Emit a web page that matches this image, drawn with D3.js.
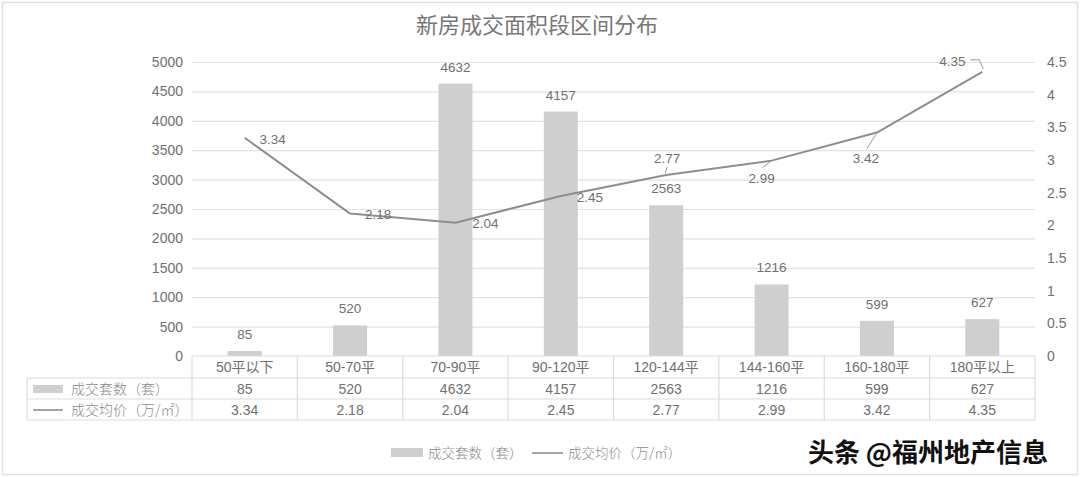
<!DOCTYPE html>
<html><head><meta charset="utf-8">
<script src="https://cdn.jsdelivr.net/npm/d3@7/dist/d3.min.js"></script>
<style>
html,body{margin:0;padding:0;background:#fff;}
svg{display:block;}
</style></head>
<body>
<svg id="c" width="1080" height="477"></svg>
<script>
const title = "新房成交面积段区间分布";
const categories = ["50平以下","50-70平","70-90平","90-120平","120-144平","144-160平","160-180平","180平以上"];
const counts = [85, 520, 4632, 4157, 2563, 1216, 599, 627];
const prices = [3.34, 2.18, 2.04, 2.45, 2.77, 2.99, 3.42, 4.35];
const leftTicks = [0,500,1000,1500,2000,2500,3000,3500,4000,4500,5000];
const rightTicks = [0,0.5,1,1.5,2,2.5,3,3.5,4,4.5];
const seriesNames = ["成交套数（套）", "成交均价（万/㎡）"];
const watermark = "头条 @福州地产信息";

const latin = "'Liberation Sans', Arial, 'Noto Sans CJK SC', sans-serif";
const cjk = "'Noto Sans CJK SC', sans-serif";
const txt = "#707070";
const barColor = "#cfcfcf";
const lineColor = "#8e8e8e";
const gridColor = "#e2e2e2";
const tableColor = "#dcdcdc";

const svg = d3.select("#c");
const W = 1080, H = 477;
const m = {left:192, right:1035, top:62, bottom:356};

// outer border
svg.append("rect").attr("x",2.5).attr("y",2.5).attr("width",W-5).attr("height",H-5)
  .attr("fill","none").attr("stroke","#e0e0e0").attr("stroke-width",1.5);

svg.append("text").attr("x",537).attr("y",33).attr("text-anchor","middle")
  .attr("font-family",cjk).attr("font-size",22).attr("fill","#777").text(title);

const x = d3.scaleBand().domain(categories).range([m.left, m.right]).paddingInner(0).paddingOuter(0);
const yL = d3.scaleLinear().domain([0,5000]).range([m.bottom, m.top]);
const yR = d3.scaleLinear().domain([0,4.5]).range([m.bottom, m.top]);

// gridlines
svg.append("g").selectAll("line").data(leftTicks.filter(d=>d>0)).join("line")
  .attr("x1",m.left).attr("x2",m.right).attr("y1",d=>yL(d)+0.5).attr("y2",d=>yL(d)+0.5)
  .attr("stroke",gridColor).attr("stroke-width",1.2);

// left axis
const gL = svg.append("g").attr("transform",`translate(${m.left-9},0)`)
  .call(d3.axisLeft(yL).tickValues(leftTicks).tickSize(0).tickPadding(0).tickFormat(d3.format("d")));
gL.select(".domain").remove();
gL.selectAll("text").attr("font-family",latin).attr("font-size",14).attr("fill",txt);

// right axis
const gR = svg.append("g").attr("transform",`translate(${m.right+12},0)`)
  .call(d3.axisRight(yR).tickValues(rightTicks).tickSize(0).tickPadding(0).tickFormat(d=>String(d)));
gR.select(".domain").remove();
gR.selectAll("text").attr("font-family",latin).attr("font-size",14).attr("fill",txt);

// bars
const bw = 34;
svg.append("g").selectAll("rect").data(counts).join("rect")
  .attr("x",(d,i)=>x(categories[i])+x.bandwidth()/2-bw/2)
  .attr("y",d=>yL(d)).attr("width",bw).attr("height",d=>yL(0)-yL(d))
  .attr("fill",barColor);
svg.append("g").selectAll("text").data(counts).join("text")
  .attr("x",(d,i)=>x(categories[i])+x.bandwidth()/2)
  .attr("y",d=>yL(d)-12).attr("text-anchor","middle")
  .attr("font-family",latin).attr("font-size",13.5).attr("fill",txt).text(d=>d);

// line
const cx = i => x(categories[i])+x.bandwidth()/2;
const line = d3.line().x((d,i)=>cx(i)).y(d=>yR(d));
svg.append("path").datum(prices).attr("d",line).attr("fill","none")
  .attr("stroke",lineColor).attr("stroke-width",2).attr("stroke-linejoin","round");

// line labels placement (dx, dy of text center relative to point; leader line)
const place = [
  {dx:28, dy:1},
  {dx:28, dy:1},
  {dx:30, dy:1},
  {dx:29, dy:1},
  {dx:1, dy:-17, lead:[[1,-8],[-1,-2]]},
  {dx:-10, dy:18, lead:[[-9,7],[0,0]]},
  {dx:-11, dy:26, lead:[[-10,16],[-1,2]]},
  {dx:-30, dy:-11, lead:[[-12,-12],[-3,-12],[1,-3]]}
];
const lg = svg.append("g");
prices.forEach((p,i)=>{
  const px = cx(i), py = yR(p), pl = place[i];
  lg.append("text").attr("x",px+pl.dx).attr("y",py+pl.dy).attr("dy","0.35em")
    .attr("text-anchor","middle").attr("font-family",latin).attr("font-size",13.5)
    .attr("fill",txt).text(p.toFixed(2));
  if(pl.lead){
    lg.append("path").attr("d",d3.line()(pl.lead.map(q=>[px+q[0],py+q[1]])))
      .attr("fill","none").attr("stroke","#999").attr("stroke-width",1);
  }
});

// data table
const rowY = [356, 378, 399, 420];
const tL = 27;
const tg = svg.append("g").attr("stroke",tableColor).attr("stroke-width",1.2).attr("fill","none");
tg.append("line").attr("x1",m.left).attr("x2",m.right).attr("y1",rowY[0]).attr("y2",rowY[0]);
[1,2,3].forEach(r=>tg.append("line").attr("x1",tL).attr("x2",m.right).attr("y1",rowY[r]).attr("y2",rowY[r]));
tg.append("line").attr("x1",tL).attr("x2",tL).attr("y1",rowY[1]).attr("y2",rowY[3]);
categories.forEach(c=>tg.append("line").attr("x1",x(c)).attr("x2",x(c)).attr("y1",rowY[0]).attr("y2",rowY[3]));
tg.append("line").attr("x1",m.right).attr("x2",m.right).attr("y1",rowY[0]).attr("y2",rowY[3]);

const tt = svg.append("g").attr("font-size",14).attr("fill",txt).attr("text-anchor","middle");
categories.forEach((c,i)=>{
  const mx = cx(i);
  tt.append("text").attr("x",mx).attr("y",(rowY[0]+rowY[1])/2).attr("dy","0.36em")
    .attr("font-family",latin).text(c);
  tt.append("text").attr("x",mx).attr("y",(rowY[1]+rowY[2])/2).attr("dy","0.36em")
    .attr("font-family",latin).text(counts[i]);
  tt.append("text").attr("x",mx).attr("y",(rowY[2]+rowY[3])/2).attr("dy","0.36em")
    .attr("font-family",latin).text(prices[i].toFixed(2));
});
// table legend keys
svg.append("rect").attr("x",33).attr("y",385).attr("width",30).attr("height",8).attr("fill",barColor);
svg.append("line").attr("x1",33).attr("x2",63).attr("y1",410).attr("y2",410).attr("stroke",lineColor).attr("stroke-width",1.6);
svg.append("text").attr("x",71).attr("y",389).attr("dy","0.36em").attr("font-family",cjk).attr("font-weight",300)
  .attr("font-size",14).attr("fill","#8a8a8a").text(seriesNames[0]);
svg.append("text").attr("x",71).attr("y",410).attr("dy","0.36em").attr("font-family",cjk).attr("font-weight",300)
  .attr("font-size",14).attr("fill","#8a8a8a").text(seriesNames[1]);

// bottom legend
svg.append("rect").attr("x",391).attr("y",448).attr("width",32).attr("height",9).attr("fill",barColor);
svg.append("text").attr("x",428).attr("y",453).attr("dy","0.36em").attr("font-family",cjk).attr("font-weight",300)
  .attr("font-size",13.5).attr("fill","#8a8a8a").text(seriesNames[0]);
svg.append("line").attr("x1",532).attr("x2",563).attr("y1",453).attr("y2",453).attr("stroke",lineColor).attr("stroke-width",1.6);
svg.append("text").attr("x",568).attr("y",453).attr("dy","0.36em").attr("font-family",cjk).attr("font-weight",300)
  .attr("font-size",13.5).attr("fill","#8a8a8a").text(seriesNames[1]);

// watermark
svg.append("text").attr("x",1048).attr("y",453).attr("dy","0.36em").attr("text-anchor","end")
  .attr("font-family",cjk).attr("font-weight",700).attr("font-size",26).attr("fill","#111")
  .attr("stroke","#fff").attr("stroke-width",3).attr("paint-order","stroke").text(watermark);
</script>
</body></html>
